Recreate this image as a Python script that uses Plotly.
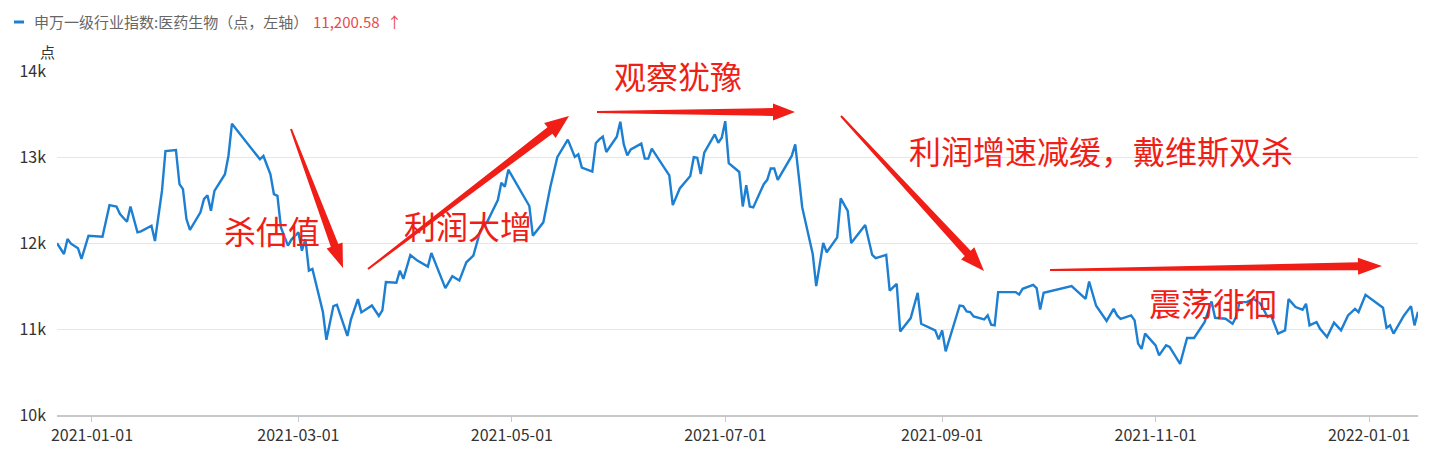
import math
import plotly.graph_objects as go

# ---------------- data ----------------
dates = [
    "2020-12-22", "2020-12-24", "2020-12-25", "2020-12-26", "2020-12-28", "2020-12-29", "2020-12-31",
    "2021-01-04", "2021-01-06", "2021-01-08", "2021-01-09", "2021-01-11", "2021-01-12", "2021-01-14",
    "2021-01-15", "2021-01-18", "2021-01-19", "2021-01-21", "2021-01-22", "2021-01-25", "2021-01-26",
    "2021-01-27", "2021-01-28", "2021-01-29", "2021-02-01", "2021-02-02", "2021-02-03", "2021-02-04",
    "2021-02-05", "2021-02-08", "2021-02-09", "2021-02-10", "2021-02-18", "2021-02-19", "2021-02-21",
    "2021-02-22", "2021-02-23", "2021-02-24", "2021-02-26", "2021-02-27", "2021-03-01", "2021-03-02",
    "2021-03-03", "2021-03-04", "2021-03-05", "2021-03-08", "2021-03-09", "2021-03-11", "2021-03-12",
    "2021-03-15", "2021-03-16", "2021-03-18", "2021-03-19", "2021-03-22", "2021-03-24", "2021-03-25",
    "2021-03-26", "2021-03-29", "2021-03-30", "2021-03-31", "2021-04-02", "2021-04-04", "2021-04-07",
    "2021-04-08", "2021-04-12", "2021-04-14", "2021-04-16", "2021-04-18", "2021-04-20", "2021-04-22",
    "2021-04-24", "2021-04-27", "2021-04-28", "2021-04-29", "2021-04-30", "2021-05-06", "2021-05-07",
    "2021-05-10", "2021-05-12", "2021-05-14", "2021-05-17", "2021-05-19", "2021-05-20", "2021-05-21",
    "2021-05-24", "2021-05-25", "2021-05-26", "2021-05-27", "2021-05-28", "2021-05-31", "2021-06-01",
    "2021-06-02", "2021-06-03", "2021-06-04", "2021-06-07", "2021-06-08", "2021-06-09", "2021-06-10",
    "2021-06-12", "2021-06-15", "2021-06-16", "2021-06-18", "2021-06-21", "2021-06-22", "2021-06-23",
    "2021-06-24", "2021-06-25", "2021-06-28", "2021-06-29", "2021-06-30", "2021-07-01", "2021-07-02",
    "2021-07-05", "2021-07-06", "2021-07-07", "2021-07-08", "2021-07-09", "2021-07-12", "2021-07-13",
    "2021-07-14", "2021-07-15", "2021-07-16", "2021-07-20", "2021-07-21", "2021-07-23", "2021-07-26",
    "2021-07-27", "2021-07-29", "2021-07-30", "2021-08-02", "2021-08-03", "2021-08-05", "2021-08-06",
    "2021-08-10", "2021-08-12", "2021-08-13", "2021-08-16", "2021-08-17", "2021-08-19", "2021-08-20",
    "2021-08-23", "2021-08-25", "2021-08-26", "2021-08-30", "2021-08-31", "2021-09-01", "2021-09-02",
    "2021-09-06", "2021-09-07", "2021-09-08", "2021-09-09", "2021-09-10", "2021-09-13", "2021-09-14",
    "2021-09-15", "2021-09-16", "2021-09-17", "2021-09-22", "2021-09-23", "2021-09-24", "2021-09-27",
    "2021-09-28", "2021-09-29", "2021-09-30", "2021-10-08", "2021-10-12", "2021-10-13", "2021-10-15",
    "2021-10-18", "2021-10-20", "2021-10-21", "2021-10-22", "2021-10-25", "2021-10-26", "2021-10-27",
    "2021-10-28", "2021-10-29", "2021-11-01", "2021-11-02", "2021-11-04", "2021-11-05", "2021-11-08",
    "2021-11-10", "2021-11-12", "2021-11-15", "2021-11-17", "2021-11-18", "2021-11-21", "2021-11-23",
    "2021-11-24", "2021-11-25", "2021-11-27", "2021-11-29", "2021-12-01", "2021-12-03", "2021-12-04",
    "2021-12-06", "2021-12-08", "2021-12-09", "2021-12-11", "2021-12-13", "2021-12-14", "2021-12-15",
    "2021-12-17", "2021-12-18", "2021-12-20", "2021-12-22", "2021-12-24", "2021-12-26", "2021-12-28",
    "2021-12-29", "2021-12-31", "2022-01-05", "2022-01-06", "2022-01-07", "2022-01-08", "2022-01-11",
    "2022-01-13", "2022-01-14", "2022-01-15",
]
index_values = [
    11997, 11872, 12046, 11992, 11939, 11815, 12085,
    12073, 12440, 12425, 12336, 12247, 12425, 12124,
    12136, 12200, 12023, 12606, 13070, 13081, 12684,
    12626, 12278, 12154, 12356, 12510, 12556, 12375,
    12606, 12800, 13012, 13387, 12973, 13012, 12800,
    12568, 12548, 12182, 11969, 12040, 12124, 11911,
    12046, 11679, 11699, 11197, 10875, 11266, 11282,
    10919, 11110, 11347, 11193, 11273, 11151, 11216,
    11545, 11537, 11679, 11583, 11861, 11795, 11725,
    11884, 11475, 11614, 11563, 11776, 11853, 12143,
    12250, 12500, 12700, 12655, 12853, 12430, 12085,
    12240, 12651, 12998, 13202, 13001, 13031, 12877,
    12831, 13160, 13205, 13236, 13058, 13236, 13410,
    13147, 13020, 13089, 13155, 12981, 12981, 13097,
    12973, 12787, 12440, 12634, 12780, 12998, 12990,
    12803, 13051, 13263, 13166, 13224, 13417, 12929,
    12826, 12425, 12672, 12425, 12414, 12684, 12734,
    12866, 12866, 12734, 13012, 13147, 12414, 11873,
    11498, 12000, 11892, 12066, 12518, 12374, 12000,
    12209, 11861, 11823, 11861, 11447, 11525, 10972,
    11127, 11421, 11061, 10984, 10880, 10984, 10740,
    11273, 11266, 11204, 11197, 11146, 11111, 11158,
    11050, 11042, 11429, 11429, 11401, 11467, 11513,
    11475, 11227, 11421, 11498, 11351, 11552, 11270,
    11094, 11235, 11158, 11119, 11158, 11100, 10830,
    10768, 10946, 10810, 10694, 10810, 10791, 10595,
    10896, 10896, 11080, 11320, 11130, 11119, 11061,
    11139, 11313, 11313, 11351, 11293, 11139, 11158,
    10946, 10984, 11347, 11255, 11224, 11293, 11042,
    11081, 11003, 10907, 11073, 10984, 11158, 11235,
    11197, 11397, 11247, 11015, 11042, 10946, 11158,
    11266, 11042, 11200.58,
]
series_name = "申万一级行业指数:医药生物（点，左轴）"
latest_label = "11,200.58"
x_tick_vals = ["2021-01-01", "2021-03-01", "2021-05-01", "2021-07-01",
               "2021-09-01", "2021-11-01", "2022-01-01"]
y_tick_vals = [10000, 11000, 12000, 13000, 14000]
y_tick_text = ["10k", "11k", "12k", "13k", "14k"]
notes = ["杀估值", "利润大增", "观察犹豫", "利润增速减缓，戴维斯双杀", "震荡徘徊"]

# ---------------- layout helpers (page pixel -> paper) ----------------
W, H = 1446, 461
BODY = 8  # default page body margin
L, R, T, B = 57, 1418, 71, 415
PW, PH = R - L, B - T


def px(x):
    return (x - L) / PW


def py(y):
    return (B - y) / PH


RED = "#f01e16"
BLUE = "#1c7fd2"
CJK = "Noto Sans CJK SC, Noto Sans, sans-serif"

fig = go.Figure()
fig.add_trace(go.Scatter(
    x=dates, y=index_values, mode="lines", name=series_name,
    line=dict(color=BLUE, width=2.4), showlegend=False,
))


def arrow_path(x0, y0, x1, y1, w0=2.0, w1=8.0, hw=18.0, hl=22.0):
    dx, dy = x1 - x0, y1 - y0
    ln = math.hypot(dx, dy)
    ux, uy = dx / ln, dy / ln
    nx, ny = -uy, ux
    bx, by = x1 - ux * hl, y1 - uy * hl
    pts = [
        (x0 + nx * w0 / 2, y0 + ny * w0 / 2),
        (bx + nx * w1 / 2, by + ny * w1 / 2),
        (bx + nx * hw / 2, by + ny * hw / 2),
        (x1, y1),
        (bx - nx * hw / 2, by - ny * hw / 2),
        (bx - nx * w1 / 2, by - ny * w1 / 2),
        (x0 - nx * w0 / 2, y0 - ny * w0 / 2),
    ]
    return "M " + " L ".join(f"{px(a):.5f},{py(b):.5f}" for a, b in pts) + " Z"


arrows = [
    (291, 129, 343, 268, 17, 24),
    (368, 269, 569, 116, 19, 24),
    (597, 112, 795, 112, 17, 22),
    (841, 116, 984, 271, 18, 24),
    (1050, 270, 1382, 266, 17, 24),
]
shapes = []
for x0, y0, x1, y1, hw, hl in arrows:
    shapes.append(dict(type="path", xref="paper", yref="paper",
                       path=arrow_path(x0, y0, x1, y1, hw=hw, hl=hl),
                       fillcolor=RED, line=dict(width=0)))
# legend marker
shapes.append(dict(type="line", xref="paper", yref="paper",
                   x0=px(14), x1=px(24), y0=py(22), y1=py(22),
                   line=dict(color=BLUE, width=3)))

annotations = []
note_pos = [(272, 230), (468, 225), (678, 75), (1101, 150), (1213, 302)]
for txt, (cx, cy) in zip(notes, note_pos):
    annotations.append(dict(text=txt, xref="paper", yref="paper", x=px(cx), y=py(cy),
                            xanchor="center", yanchor="middle", showarrow=False,
                            font=dict(family=CJK, size=32, color=RED)))
annotations.append(dict(text=series_name, xref="paper", yref="paper", x=px(32), y=py(22),
                        xanchor="left", yanchor="middle", showarrow=False,
                        font=dict(family=CJK, size=15, color="#666666")))
annotations.append(dict(text=latest_label, xref="paper", yref="paper", x=px(311), y=py(22),
                        xanchor="left", yanchor="middle", showarrow=False,
                        font=dict(family=CJK, size=15, color="#e84a4a")))
annotations.append(dict(text="↑", xref="paper", yref="paper", x=px(394), y=py(22),
                        xanchor="center", yanchor="middle", showarrow=False,
                        font=dict(family=CJK, size=15, color="#e84a4a")))
annotations.append(dict(text="点", xref="paper", yref="paper", x=px(47), y=py(52),
                        xanchor="center", yanchor="middle", showarrow=False,
                        font=dict(family=CJK, size=15, color="#333333")))

fig.update_layout(
    width=W, height=H,
    margin=dict(l=L - BODY, r=W + BODY - R, t=T - BODY, b=H + BODY - B, pad=0),
    paper_bgcolor="white", plot_bgcolor="white",
    shapes=shapes, annotations=annotations,
    xaxis=dict(
        type="date", range=[dates[0], dates[-1]],
        tickvals=x_tick_vals, tickformat="%Y-%m-%d",
        showgrid=False, showline=True, linecolor="#c8c8c8", linewidth=1.5,
        ticks="outside", ticklen=5, tickcolor="#c8c8d0",
        tickfont=dict(family=CJK, size=16, color="#333333"),
        zeroline=False,
    ),
    yaxis=dict(
        range=[10000, 14000], tickvals=y_tick_vals, ticktext=y_tick_text,
        showgrid=True, gridcolor="#e6e6e6", gridwidth=1,
        showline=False, zeroline=False, ticks="", ticklabelstandoff=10,
        tickfont=dict(family=CJK, size=16, color="#333333"),
    ),
)

fig.write_html("out.html")
